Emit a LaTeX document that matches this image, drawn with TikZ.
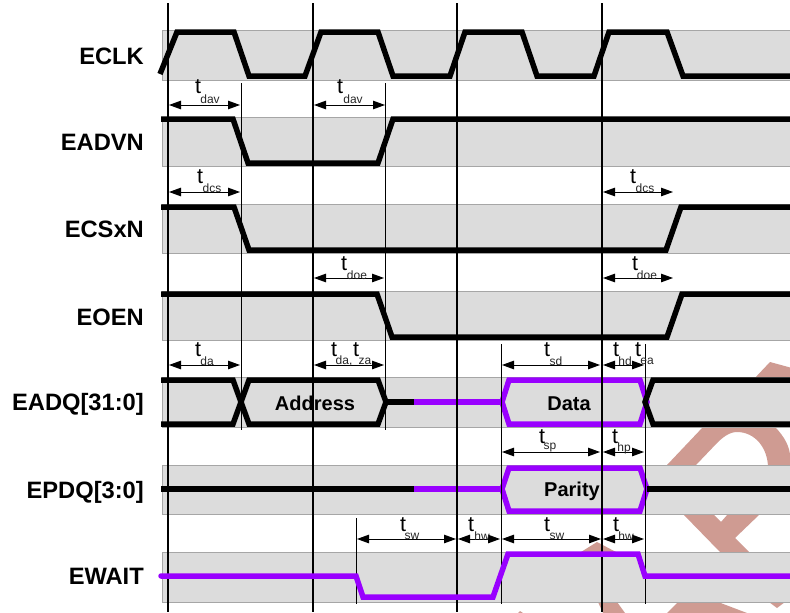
\documentclass[tikz,border=0pt]{standalone}
\usepackage{fontspec}
\setmainfont{Liberation Sans}
\usetikzlibrary{arrows.meta}
\definecolor{band}{HTML}{DCDCDC}
\definecolor{bandline}{HTML}{A6A6A6}
\definecolor{wm}{HTML}{CF9B92}
\definecolor{bus}{HTML}{9900FF}
\tikzset{
  x=1pt,y=-1pt,
  bandbox/.style={fill=band,draw=bandline,line width=1pt},
  wave/.style={line width=5.5pt,line join=miter,miter limit=3,draw=black},
  pwave/.style={wave,draw=bus},
  clockline/.style={line width=2.5pt,black},
  guide/.style={line width=1pt,black},
  dimline/.style={line width=1pt,black,{Triangle[length=12pt,width=8.5pt]}-{Triangle[length=12pt,width=8.5pt]},shorten <=0pt,shorten >=0pt},
  tlabel/.style={inner sep=0pt,font=\fontsize{21.5}{22}\selectfont},
  sublabel/.style={inner sep=0pt,font=\fontsize{12}{12}\selectfont,text=black!85},
  signame/.style={inner sep=0pt,anchor=base east,font=\fontsize{23.7}{25}\selectfont\bfseries},
  buslabel/.style={inner sep=0pt,font=\fontsize{20}{22}\selectfont\bfseries},
}
% \tdim{name}{x1}{x2}{y}{t x}{t y}{sub x}{sub y}{sub text}
\newcommand{\tdim}[9]{%
  \coordinate (#1a) at (#2,#4);
  \coordinate (#1b) at (#3,#4);
  \draw[dimline] (#1a) -- (#1b);
  \node[tlabel] (#1t) at (#5,#6) {t};
  \node[sublabel] (#1s) at (#7,#8) {#9};
}
\begin{document}
\begin{tikzpicture}
\useasboundingbox (0,0) rectangle (790,613);
\fill[white] (0,0) rectangle (790,613);
% watermark
\begin{scope}
\clip (0,0) rectangle (790,613);
\fill[wm] (770,362) -- (792,368) -- (792,380) -- (753,380) -- cycle;
\fill[wm] (667,465) -- (703,427) -- (775,427) .. controls (785,437) and (790,448) .. (790,456) -- (790,468) -- (768,468) .. controls (768,448) and (755,432) .. (737,432) .. controls (729,432) and (722,438) .. (717,443) -- (696,465) -- cycle;
\fill[wm] (683,514) -- (713,514) -- (721,522) -- (728,514) -- (760,514) -- (735,538) -- (749,552) -- (720,552) -- cycle;
\fill[wm] (597,542) -- (616,552) -- (581,552) -- cycle;
\fill[wm] (598,602) -- (617,602) -- (625,613) -- (603,613) -- cycle;
\fill[wm] (678,602) -- (718,602) -- (747,613) -- (667,613) -- cycle;
\fill[wm] (769,602) -- (785,602) -- (777,608) -- cycle;
\fill[wm] (518,613) -- (520,611) -- (523,613) -- cycle;
\end{scope}
% bands
\foreach \t/\b in {30/80,117/166,204/253,291/340,377/427,465/514,552/602}
  \draw[bandbox] (162,\t) rectangle (795,\b);
% labels
\node[signame] (lclk) at (144,64) {ECLK};
\node[signame] (ladv) at (144,150) {EADVN};
\node[signame] (lcs) at (144,237) {ECSxN};
\node[signame] (loen) at (144,325) {EOEN};
\node[signame] (ladq) at (144,410) {EADQ[31:0]};
\node[signame] (lpdq) at (144,498) {EPDQ[3:0]};
\node[signame] (lwait) at (144,584) {EWAIT};
% waves
\begin{scope}
\clip (0,0) rectangle (790,613);
\draw[wave] (160,74) -- (177,32) -- (234,32) -- (249,76) -- (305,76) -- (321,32) -- (378,32) -- (393,76) -- (450,76) -- (465,32) -- (522,32) -- (537,76) -- (594,76) -- (609,32) -- (667,32) -- (683,76) -- (795,76);
\draw[wave] (161,119) -- (233,119) -- (248,163) -- (378,163) -- (393,119) -- (795,119);
\draw[wave] (161,207) -- (234,207) -- (249,250) -- (666,250) -- (681,207) -- (795,207);
\draw[wave] (161,294) -- (377,294) -- (392,337) -- (667,337) -- (682,294) -- (795,294);
% EADQ
\draw[wave] (161,380) -- (233,380) -- (249,424) -- (378,424) -- (386,402) -- (378,380) -- (249,380) -- (233,424) -- (161,424);
\draw[wave,line cap=butt] (386,402) -- (414,402);
\draw[pwave,line cap=butt] (414,402) -- (501,402);
\draw[pwave] (502,402) -- (509,380) -- (640,380) -- (647,402) -- (640,424) -- (509,424) -- cycle;
\draw[wave] (795,380) -- (653,380) -- (645,402) -- (653,424) -- (795,424);
% EPDQ
\draw[wave,line cap=butt] (161,489) -- (414,489);
\draw[pwave,line cap=butt] (414,489) -- (501,489);
\draw[pwave] (502,489) -- (509,468) -- (640,468) -- (647,489) -- (640,511) -- (509,511) -- cycle;
\draw[wave,line cap=butt] (647,489) -- (795,489);
\end{scope}
% clock lines
\foreach \x in {168,313,457,602}
  \draw[clockline] (\x,3) -- (\x,612);
% guides
\draw[guide] (241,83) -- (241,430);
\draw[guide] (385,83) -- (385,430);
\draw[guide] (501,344) -- (501,604);
\draw[guide] (645,344) -- (645,604);
\draw[guide] (356,518) -- (356,604);
% EWAIT on top
\begin{scope}
\clip (0,0) rectangle (790,613);
\draw[pwave,line cap=round] (161,576) -- (356,576) -- (363,597) -- (493,597) -- (508,554) -- (638,554) -- (645,576) -- (795,576);
\end{scope}
% bus texts
\node[buslabel] (taddr) at (315,403) {Address};
\node[buslabel] (tdata) at (569,404) {Data};
\node[buslabel] (tpar) at (572,491) {Parity};
% timing dims
\tdim{dava}{169}{240}{105}{198}{87}{210}{99}{dav}
\tdim{davb}{314}{385}{105}{340}{87}{353}{99}{dav}
\tdim{dcsa}{169}{240}{192}{200}{177}{212}{188}{dcs}
\tdim{dcsb}{603}{673}{192}{633}{177}{645}{188}{dcs}
\tdim{doea}{314}{384}{278}{344}{264}{357}{275}{doe}
\tdim{doeb}{603}{673}{278}{635}{264}{647}{275}{doe}
\tdim{daa}{169}{240}{365}{198}{350}{207}{361}{da}
\tdim{dab}{314}{384}{365}{334}{350}{344}{361}{da,}
\node[tlabel] (zat) at (356,350) {t};
\node[sublabel] (zas) at (365,361) {za};
\tdim{sda}{502}{600}{365}{547}{350}{556}{361}{sd}
\tdim{hda}{603}{644}{365}{616}{350}{625}{361}{hd}
\node[tlabel] (eat) at (638,350) {t};
\node[sublabel] (eas) at (647,361) {ea};
\tdim{spa}{502}{600}{452}{542}{437}{550}{448}{sp}
\tdim{hpa}{603}{644}{452}{615}{437}{624}{448}{hp}
\tdim{swa}{357}{456}{539}{403}{525}{412}{536}{sw}
\tdim{hwa}{458}{500}{539}{471}{525}{482}{536}{hw}
\tdim{swb}{502}{601}{539}{547}{525}{557}{536}{sw}
\tdim{hwb}{603}{644}{539}{616}{525}{626}{536}{hw}
\end{tikzpicture}
\end{document}
